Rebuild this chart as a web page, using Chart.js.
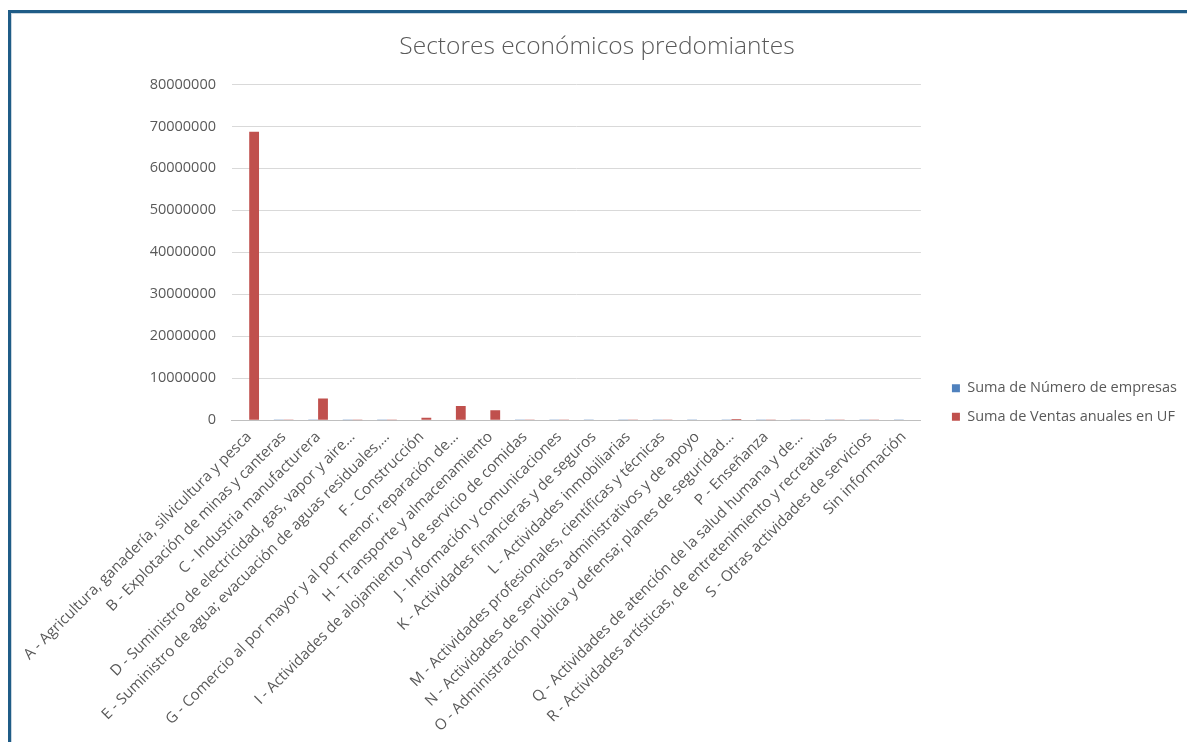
<!DOCTYPE html>
<html>
<head>
<meta charset="utf-8">
<script src="https://cdn.jsdelivr.net/npm/chart.js@4.4.1/dist/chart.umd.min.js"></script>
<style>
  html, body { margin: 0; padding: 0; background: #fff; overflow: hidden; }
  #marco {
    position: absolute; left: 8px; top: 10px; width: 1179px; height: 732px;
    border-top: 3px solid #1f5c87; border-left: 3px solid #1f5c87;
    box-shadow: inset 1px 1px 0 #c9d6e0;
  }
  #lienzo { position: absolute; left: 24px; top: 14px; }
</style>
</head>
<body>
<div id="marco"></div>
<canvas id="lienzo" width="1163" height="728"></canvas>
<script>
// Sectores económicos (categorías del eje X)
const sectores = [
  'A - Agricultura, ganadería, silvicultura y pesca',
  'B - Explotación de minas y canteras',
  'C - Industria manufacturera',
  'D - Suministro de electricidad, gas, vapor y aire…',
  'E - Suministro de agua; evacuación de aguas residuales,…',
  'F - Construcción',
  'G - Comercio al por mayor y al por menor; reparación de…',
  'H - Transporte y almacenamiento',
  'I - Actividades de alojamiento y de servicio de comidas',
  'J - Información y comunicaciones',
  'K - Actividades financieras y de seguros',
  'L - Actividades inmobiliarias',
  'M - Actividades profesionales, científicas y técnicas',
  'N - Actividades de servicios administrativos y de apoyo',
  'O - Administración pública y defensa; planes de seguridad…',
  'P - Enseñanza',
  'Q - Actividades de atención de la salud humana y de…',
  'R - Actividades artísticas, de entretenimiento y recreativas',
  'S - Otras actividades de servicios',
  'Sin información'
];

// Suma de Número de empresas (casi invisibles a esta escala)
const numEmpresas = [90000, 30000, 80000, 5000, 5000, 90000, 100000, 90000, 80000, 70000,
                     60000, 20000, 70000, 60000, 80000, 10000, 60000, 60000, 60000, 40000];

// Suma de Ventas anuales en UF
const ventasUF = [68700000, 150000, 5200000, 20000, 20000, 600000, 3400000, 2400000, 200000, 200000,
                  100000, 150000, 150000, 100000, 300000, 20000, 150000, 150000, 150000, 100000];

const ejeY = { min: 0, max: 80000000, paso: 10000000 };

const GRIS = '#595959';
const FUENTE = "'Open Sans', 'Noto Sans', sans-serif";

// Corre la leyenda (como en Excel queda más abajo y separada del gráfico)
const MOVER_LEYENDA = { dx: 17, dy: 24 };
const moverLeyenda = {
  id: 'moverLeyenda',
  afterLayout(chart) {
    const l = chart.legend;
    l.left += MOVER_LEYENDA.dx; l.right += MOVER_LEYENDA.dx;
    l.top += MOVER_LEYENDA.dy; l.bottom += MOVER_LEYENDA.dy;
  }
};

new Chart(document.getElementById('lienzo'), {
  type: 'bar',
  data: {
    labels: sectores,
    datasets: [
      {
        label: 'Suma de Número de empresas',
        data: numEmpresas,
        backgroundColor: '#4f81bd',
        barPercentage: 1,
        categoryPercentage: 0.57,
      },
      {
        label: 'Suma de Ventas anuales en UF',
        data: ventasUF,
        backgroundColor: '#c0504d',
        barPercentage: 1,
        categoryPercentage: 0.57,
      }
    ]
  },
  plugins: [moverLeyenda],
  options: {
    responsive: false,
    animation: false,
    layout: { padding: { top: 8, right: MOVER_LEYENDA.dx, left: 0, bottom: 7 } },
    plugins: {
      title: {
        display: true,
        text: 'Sectores económicos predomiantes',
        color: GRIS,
        font: { family: FUENTE, size: 24.5, weight: '300' },
        padding: { top: 10, bottom: 23 },
      },
      legend: {
        display: true,
        position: 'right',
        align: 'center',
        labels: {
          color: GRIS,
          font: { family: FUENTE, size: 14.5 },
          boxWidth: 8,
          boxHeight: 8,
          padding: 14,
        }
      },
      tooltip: { enabled: false },
    },
    scales: {
      x: {
        grid: { display: false },
        border: { color: '#bfbfbf' },
        ticks: {
          color: GRIS,
          font: { family: FUENTE, size: 15 },
          autoSkip: false,
          minRotation: 45,
          maxRotation: 45,
          padding: 0,
        }
      },
      y: {
        min: ejeY.min,
        max: ejeY.max,
        border: { display: false },
        grid: { color: '#d9d9d9', drawTicks: false },
        ticks: {
          stepSize: ejeY.paso,
          color: GRIS,
          font: { family: FUENTE, size: 14.5 },
          padding: 16,
          callback: v => String(v),
        }
      }
    }
  }
});
</script>
</body>
</html>
